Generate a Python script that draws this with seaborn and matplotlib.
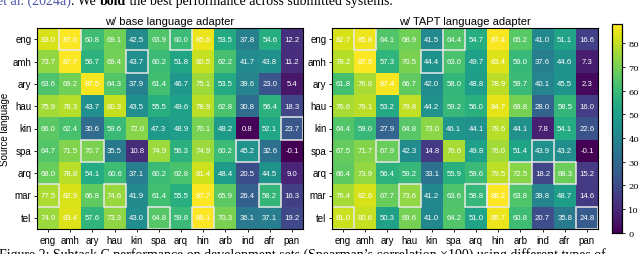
import matplotlib
matplotlib.use("Agg")
import matplotlib.pyplot as plt
import seaborn as sns
import numpy as np
import pandas as pd
from matplotlib.patches import Rectangle

##############################################################################
# Data
##############################################################################

sources = ["eng", "amh", "ary", "hau", "kin", "spa", "arq", "mar", "tel"]
targets = ["eng", "amh", "ary", "hau", "kin", "spa", "arq", "hin", "arb", "ind", "afr", "pan"]

base_scores = [
    [83.0, 87.6, 60.8, 69.1, 42.5, 63.9, 60.0, 85.6, 53.5, 37.8, 54.6, 12.2],
    [73.7, 87.7, 56.7, 69.4, 43.7, 60.2, 51.8, 80.5, 62.2, 41.7, 43.8, 11.2],
    [63.6, 69.2, 87.5, 64.3, 37.9, 61.4, 46.7, 75.1, 53.5, 39.6, 23.0, 5.4],
    [75.9, 78.3, 43.7, 80.3, 43.5, 55.5, 49.6, 78.9, 62.8, 30.8, 56.4, 18.3],
    [66.0, 62.4, 30.6, 59.6, 72.0, 47.3, 48.9, 70.1, 48.2, 0.8, 52.1, 23.7],
    [64.7, 71.5, 70.7, 35.5, 10.8, 74.9, 56.3, 74.9, 60.2, 45.2, 32.6, -0.1],
    [68.0, 78.8, 54.1, 60.6, 37.1, 60.2, 62.8, 81.4, 48.4, 20.5, 44.5, 9.0],
    [77.5, 82.9, 66.8, 74.6, 41.9, 61.4, 55.5, 87.7, 65.9, 26.4, 58.2, 16.3],
    [74.9, 83.4, 57.6, 73.3, 43.0, 64.8, 59.8, 88.1, 70.3, 36.1, 37.1, 19.2],
]

tapt_scores = [
    [82.7, 85.8, 64.1, 68.9, 41.5, 64.4, 54.7, 87.4, 65.2, 41.0, 51.1, 16.6],
    [78.2, 87.6, 57.3, 70.5, 44.4, 63.0, 49.7, 83.4, 59.0, 37.6, 44.6, 7.3],
    [61.8, 76.8, 87.4, 66.7, 42.0, 58.0, 48.8, 78.9, 59.7, 40.1, 45.5, 2.3],
    [76.6, 79.1, 53.2, 79.8, 44.2, 59.2, 56.0, 84.7, 69.8, 28.0, 58.5, 16.0],
    [64.4, 59.0, 27.9, 64.8, 73.0, 46.1, 44.1, 78.6, 44.1, 7.8, 54.1, 22.6],
    [67.5, 71.7, 67.9, 42.3, 14.8, 76.6, 49.8, 76.0, 51.4, 43.9, 43.2, -0.1],
    [66.4, 73.9, 56.4, 59.2, 33.1, 55.9, 59.6, 79.5, 72.5, 18.2, 68.3, 15.2],
    [76.4, 82.6, 67.7, 73.6, 41.2, 63.6, 58.8, 88.2, 63.8, 39.8, 48.7, 14.6],
    [81.0, 80.6, 50.3, 69.6, 41.0, 64.2, 51.0, 85.7, 60.8, 20.7, 35.8, 24.8],
]

# highlighted cells (source, target)
base_boxes = [("eng", "amh"), ("eng", "arq"), ("amh", "kin"), ("kin", "pan"),
              ("spa", "ary"), ("spa", "ind"), ("mar", "eng"), ("mar", "hau"),
              ("mar", "afr"), ("tel", "spa"), ("tel", "hin")]
tapt_boxes = [("eng", "amh"), ("eng", "spa"), ("amh", "kin"), ("spa", "ary"),
              ("spa", "ind"), ("arq", "arb"), ("arq", "afr"), ("mar", "hau"),
              ("mar", "arq"), ("mar", "hin"), ("tel", "eng"), ("tel", "pan")]

titles = ["w/ base language adapter", "w/ TAPT language adapter"]
cbar_ticks = [0, 10, 20, 30, 40, 50, 60, 70, 80]

##############################################################################
# Plot
##############################################################################

plt.rcParams["font.family"] = ["Liberation Sans", "DejaVu Sans"]

fig = plt.figure(figsize=(6.4, 2.55), dpi=100)
W, H = 640, 255


def px_axes(x0, y0, x1, y1):
    return fig.add_axes([x0 / W, 1 - y1 / H, (x1 - x0) / W, (y1 - y0) / H])


ax1 = px_axes(37, 29, 303, 230)
ax2 = px_axes(332, 29, 598, 230)
cax = px_axes(612, 25, 622, 234)

vmin = min(np.min(base_scores), np.min(tapt_scores))
vmax = max(np.max(base_scores), np.max(tapt_scores))

for ax, scores, boxes, title, with_cbar in [
    (ax1, base_scores, base_boxes, titles[0], False),
    (ax2, tapt_scores, tapt_boxes, titles[1], True),
]:
    df = pd.DataFrame(scores, index=sources, columns=targets)
    sns.heatmap(
        df,
        ax=ax,
        cmap="viridis",
        vmin=vmin,
        vmax=vmax,
        annot=True,
        fmt=".1f",
        annot_kws={"color": "white", "fontsize": 5.6},
        cbar=with_cbar,
        cbar_ax=cax if with_cbar else None,
    )
    for src, tgt in boxes:
        ax.add_patch(Rectangle((targets.index(tgt), sources.index(src)), 1, 1,
                               fill=False, edgecolor="#e8e8e8", linewidth=1.1))
    for s in ax.spines.values():
        s.set_visible(True)
        s.set_color("black")
        s.set_linewidth(0.8)
    ax.set_title(title, fontsize=8, pad=3)
    ax.set_xlabel("")
    ax.set_ylabel("")
    ax.tick_params(axis="both", labelsize=7, length=2.5, width=0.6, pad=1.5)
    ax.set_yticklabels(sources, rotation=0)
    ax.set_xticklabels(targets, rotation=0)

ax1.set_ylabel("Source language", fontsize=7, labelpad=2)

cax.set_yticks(cbar_ticks)
cax.set_yticklabels([str(t) for t in cbar_ticks], fontfamily="DejaVu Serif", fontsize=6)
cax.tick_params(length=2.5, width=0.6, pad=2)
for s in cax.spines.values():
    s.set_visible(True)
    s.set_linewidth(0.8)

# page text cropped around the figure
serif = ["Liberation Serif"]
x = -0.004 * W
for part, color, weight in [
    ("et al. (2024a)", "#4a55a8", "normal"),
    (". We ", "black", "normal"),
    ("bold", "black", "bold"),
    (" the best performance across submitted systems.", "black", "normal"),
]:
    t = fig.text(x / W, 0.995, part, color=color, fontsize=10, family=serif,
                 fontweight=weight, va="center", ha="left")
    fig.canvas.draw()
    x = t.get_window_extent().x1

fig.text(-0.002, 0.0, "Figure 2: Subtask C performance on development sets (Spearman\u2019s correlation \u00d7100) using different types of",
         fontsize=10, family=serif, va="center", ha="left")

fig.savefig("out.png", dpi=100)
